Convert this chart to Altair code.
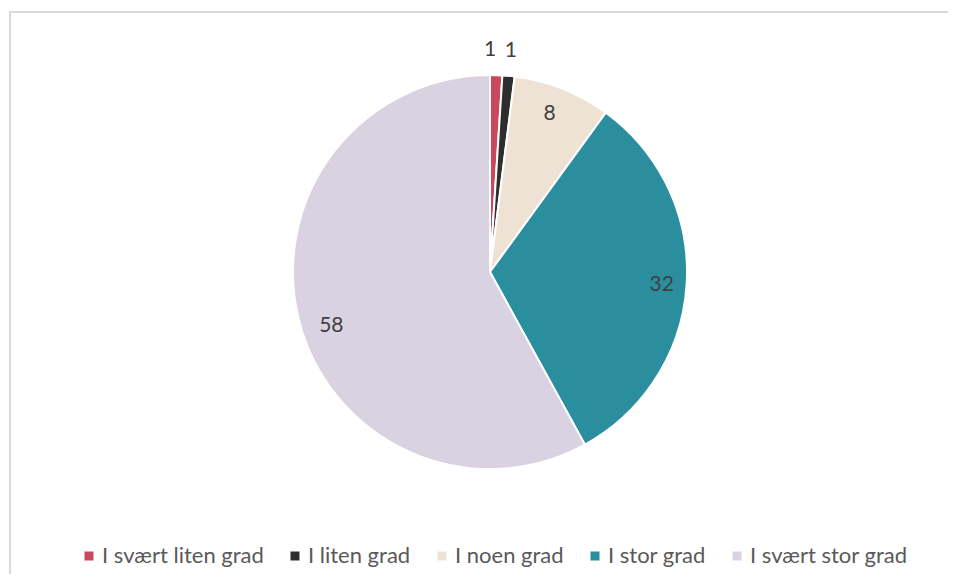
import altair as alt
import pandas as pd

categories = ["I svært liten grad", "I liten grad", "I noen grad", "I stor grad", "I svært stor grad"]
values = [1, 1, 8, 32, 58]
colors = ["#C9485B", "#2E2E2E", "#EDE2D4", "#2B8E9F", "#D9D2E0"]

df = pd.DataFrame({
    "kategori": categories,
    "verdi": values,
    "idx": list(range(len(categories))),
})

CX, CY, R = 482, 264, 197

color = alt.Color(
    "kategori:N",
    scale=alt.Scale(domain=categories, range=colors),
    sort=categories,
    legend=alt.Legend(
        title=None,
        orient="none",
        direction="horizontal",
        legendX=70,
        legendY=537,
        symbolType="square",
        symbolSize=81,
        symbolStrokeWidth=0,
        labelFontSize=22,
        labelFont="Lato",
        labelColor="#595959",
        labelOffset=2,
        columnPadding=20,
        labelLimit=300,
    ),
)

base = alt.Chart(df).encode(
    theta=alt.Theta("verdi:Q", stack=True),
    order=alt.Order("idx:Q"),
)

arcs = base.mark_arc(outerRadius=R, stroke="white", strokeWidth=2).encode(
    color=color,
    x=alt.value(CX),
    y=alt.value(CY),
)


def label_layer(i, radius, dx=0, dy=0):
    return base.mark_text(
        radius=radius, dx=dx, dy=dy, fontSize=21, font="Lato", color="#404040"
    ).encode(
        text=alt.condition(f"datum.idx == {i}", alt.Text("verdi:Q"), alt.value("")),
        x=alt.value(CX),
        y=alt.value(CY),
    )


labels = [
    label_layer(0, 222, dx=-7),
    label_layer(1, 222),
    label_layer(2, 170, dx=-3),
    label_layer(3, 170, dx=2, dy=2),
    label_layer(4, 170, dx=6, dy=12),
]

border_top = alt.Chart(df).mark_rule(stroke="#D9D9D9", strokeWidth=2).encode(
    x=alt.value(1), x2=alt.value(980), y=alt.value(4)
).transform_filter("datum.idx == 0")

border_left = alt.Chart(df).mark_rule(stroke="#D9D9D9", strokeWidth=2).encode(
    x=alt.value(2), y=alt.value(3), y2=alt.value(620)
).transform_filter("datum.idx == 0")

chart = alt.layer(border_top, border_left, arcs, *labels).properties(
    width=940, height=566, padding=0, autosize=alt.AutoSizeParams(type="none")
).configure_view(stroke=None)

chart.save("out.html", embed_options={"renderer": "svg", "actions": False})
